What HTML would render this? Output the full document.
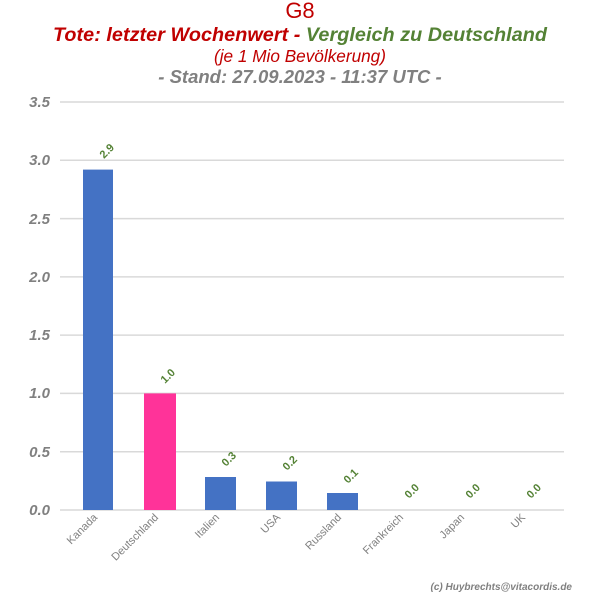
<!DOCTYPE html>
<html><head><meta charset="utf-8"><style>
body{margin:0;background:#fff;}
svg text{font-family:"Liberation Sans",sans-serif;}
</style></head><body>
<svg width="600" height="600" viewBox="0 0 600 600" xmlns="http://www.w3.org/2000/svg">
<text x="300" y="18" text-anchor="middle" font-size="22" fill="#c00000">G8</text>
<text x="300" y="41" text-anchor="middle" font-size="19.8" font-weight="bold" font-style="italic" textLength="494"><tspan fill="#c00000">Tote: letzter Wochenwert - </tspan><tspan fill="#548235">Vergleich zu Deutschland</tspan></text>
<text x="300" y="62" text-anchor="middle" font-size="17.2" font-style="italic" fill="#c00000">(je 1 Mio Bevölkerung)</text>
<text x="300" y="83" text-anchor="middle" font-size="18.5" font-weight="bold" font-style="italic" fill="#808080">- Stand: 27.09.2023 - 11:37 UTC -</text>
<g stroke="#d9d9d9" stroke-width="1.5">
<line x1="60" x2="564" y1="102" y2="102"/><line x1="60" x2="564" y1="160.3" y2="160.3"/>
<line x1="60" x2="564" y1="218.6" y2="218.6"/><line x1="60" x2="564" y1="276.9" y2="276.9"/>
<line x1="60" x2="564" y1="335.1" y2="335.1"/><line x1="60" x2="564" y1="393.4" y2="393.4"/>
<line x1="60" x2="564" y1="451.7" y2="451.7"/><line x1="60" x2="564" y1="510" y2="510"/>
</g>
<g font-size="15" font-weight="bold" font-style="italic" fill="#808080" text-anchor="end">
<text x="50" y="107">3.5</text><text x="50" y="165">3.0</text><text x="50" y="224">2.5</text>
<text x="50" y="282">2.0</text><text x="50" y="340">1.5</text><text x="50" y="398">1.0</text>
<text x="50" y="457">0.5</text><text x="50" y="515">0.0</text>
</g>
<rect x="83" y="169.6" width="30" height="340.4" fill="#4472c4"/>
<rect x="144" y="393.4" width="32" height="116.6" fill="#ff3399"/>
<rect x="205" y="477" width="31" height="33" fill="#4472c4"/>
<rect x="266" y="481.5" width="31" height="28.5" fill="#4472c4"/>
<rect x="327" y="493" width="31" height="17" fill="#4472c4"/>
<g font-size="11" font-weight="bold" fill="#548235">
<text transform="translate(104,159) rotate(-45)">2.9</text>
<text transform="translate(165,384) rotate(-45)">1.0</text>
<text transform="translate(226,467) rotate(-45)">0.3</text>
<text transform="translate(287,471) rotate(-45)">0.2</text>
<text transform="translate(348,484) rotate(-45)">0.1</text>
<text transform="translate(409,499) rotate(-45)">0.0</text>
<text transform="translate(470,499) rotate(-45)">0.0</text>
<text transform="translate(531,499) rotate(-45)">0.0</text>
</g>
<g font-size="11" fill="#808080" text-anchor="end">
<text transform="translate(98,518) rotate(-45)">Kanada</text>
<text transform="translate(159,518) rotate(-45)">Deutschland</text>
<text transform="translate(220,518) rotate(-45)">Italien</text>
<text transform="translate(281,518) rotate(-45)">USA</text>
<text transform="translate(342,518) rotate(-45)">Russland</text>
<text transform="translate(404,518) rotate(-45)">Frankreich</text>
<text transform="translate(465,518) rotate(-45)">Japan</text>
<text transform="translate(526,518) rotate(-45)">UK</text>
</g>
<text x="572" y="590" text-anchor="end" font-size="10" font-weight="bold" font-style="italic" fill="#808080">(c) Huybrechts@vitacordis.de</text>
</svg>
</body></html>
